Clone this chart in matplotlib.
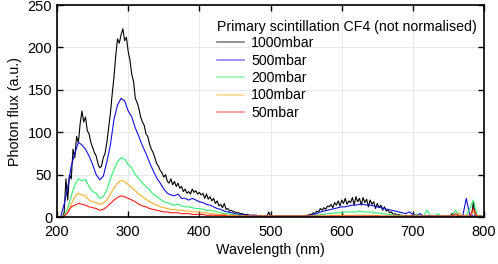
import numpy as np
import matplotlib
matplotlib.use("Agg")
import matplotlib.pyplot as plt

plt.rcParams['font.family'] = ['Liberation Sans', 'DejaVu Sans']

# wavelength grids (nm): fine one for the noisy 1000 mbar trace, coarse for the rest
wl_fine = np.arange(200, 800.1, 2.5)
wavelength = np.arange(200, 801, 5)

labels = ["1000mbar", "500mbar", "200mbar", "100mbar", "50mbar"]
colors = ["#000000", "#1010e0", "#30ee70", "#ffb02a", "#ff1c1c"]

flux_1000 = [
    0, 0, 0, 0, 5, 45, 20, 50, 45, 80,                  # 200-222.5
    70, 95, 88, 110, 125, 112, 118, 102, 98, 88,        # 225-247.5
    82, 76, 72, 63, 58, 60, 70, 75, 88, 105,            # 250-272.5
    122, 145, 165, 190, 210, 205, 215, 222, 208, 212,   # 275-297.5
    195, 185, 168, 160, 140, 135, 128, 118, 112, 108,   # 300-322.5
    98, 95, 86, 80, 76, 70, 63, 60, 55, 52,             # 325-347.5
    47, 50, 42, 40, 45, 38, 42, 36, 40, 34,             # 350-372.5
    36, 30, 33, 28, 30, 27, 33, 29, 31, 27,             # 375-397.5
    29, 26, 28, 22, 27, 21, 24, 19, 22, 16,             # 400-422.5
    19, 13, 15, 11, 16, 9, 10, 7, 8, 6,                 # 425-447.5
    6, 5, 5, 4, 4, 3, 3, 3, 2, 2,                       # 450-472.5
    2, 2, 2, 1, 2, 1, 1, 1, 1, 6,                       # 475-497.5
    1, 1, 1, 1, 1, 1, 1, 1, 1, 1,                       # 500-522.5
    1, 1, 1, 1, 1, 1, 1, 1, 1, 1,                       # 525-547.5
    2, 2, 3, 3, 5, 4, 7, 6, 10, 8,                      # 550-572.5
    11, 9, 13, 12, 15, 11, 17, 14, 19, 13,              # 575-597.5
    20, 16, 22, 15, 19, 17, 23, 14, 24, 18,             # 600-622.5
    22, 14, 23, 17, 21, 12, 20, 15, 18, 10,             # 625-647.5
    16, 11, 14, 8, 12, 7, 8, 5, 6, 3,                   # 650-672.5
    4, 2, 3, 2, 2, 1, 2, 1, 1, 2,                       # 675-697.5
    1, 1, 1, 1, 1, 1, 1, 1, 1, 1,                       # 700-722.5
    1, 1, 1, 1, 1, 1, 1, 1, 1, 1,                       # 725-747.5
    1, 1, 4, 1, 1, 1, 1, 1, 1, 1,                       # 750-772.5
    1, 1, 1, 1, 18, 1, 1, 1, 1, 1,                      # 775-797.5
    0]
flux_500 = [
    0, 0, 15, 35, 60, 75, 88, 85, 80, 72,
    62, 50, 44, 48, 65, 85, 115, 132, 140, 137,
    125, 118, 105, 95, 84, 75, 64, 55, 46, 40,
    33, 28, 26, 25, 27, 22, 22, 20, 22, 20,
    18, 17, 15, 14, 12, 10, 9, 7, 6, 5,
    4, 3, 3, 2, 2, 2, 2, 1, 1, 1,
    1, 1, 1, 1, 1, 1, 1, 1, 1, 1,
    1, 2, 3, 4, 6, 7, 8, 9, 10, 11,
    12, 12, 13, 14, 14, 15, 15, 14, 14, 13,
    12, 11, 10, 9, 8, 7, 6, 5, 4, 6,
    3, 2, 4, 1, 1, 2, 1, 1, 1, 1,
    1, 1, 1, 1, 1, 22, 2, 1, 1, 1,
    0]
flux_200 = [
    0, 0, 2, 10, 25, 38, 45, 43, 44, 36,
    30, 28, 22, 24, 32, 45, 56, 65, 70, 68,
    62, 58, 50, 45, 40, 36, 32, 27, 24, 21,
    18, 17, 15, 14, 15, 13, 12, 12, 11, 10,
    10, 9, 8, 8, 7, 6, 5, 4, 4, 3,
    3, 2, 2, 1, 1, 1, 1, 1, 1, 1,
    1, 1, 1, 1, 1, 1, 1, 1, 1, 1,
    1, 1, 2, 2, 3, 3, 4, 4, 5, 5,
    5, 6, 6, 6, 6, 7, 6, 6, 6, 5,
    5, 4, 4, 3, 3, 2, 2, 2, 1, 1,
    1, 3, 1, 1, 8, 1, 1, 4, 1, 1,
    1, 1, 8, 1, 1, 1, 10, 20, 2, 1,
    0]
flux_100 = [
    0, 0, 1, 6, 15, 24, 28, 26, 25, 20,
    18, 17, 15, 16, 20, 27, 34, 40, 43, 42,
    38, 35, 31, 27, 24, 21, 18, 16, 14, 12,
    11, 10, 9, 9, 8, 8, 7, 7, 6, 6,
    6, 5, 5, 4, 4, 3, 3, 3, 2, 2,
    2, 1, 1, 1, 1, 1, 1, 1, 1, 1,
    1, 1, 1, 1, 1, 1, 1, 1, 1, 1,
    1, 1, 1, 1, 1, 1, 1, 2, 2, 2,
    2, 2, 2, 2, 2, 2, 2, 2, 2, 2,
    2, 1, 1, 1, 1, 1, 1, 1, 1, 1,
    1, 1, 1, 1, 1, 1, 1, 1, 1, 1,
    1, 1, 1, 5, 1, 1, 1, 6, 1, 1,
    0]
flux_50 = [
    0, 0, 1, 5, 12, 14, 16, 15, 14, 12,
    11, 10, 8, 9, 12, 16, 20, 23, 25, 24,
    22, 20, 18, 15, 13, 12, 10, 9, 8, 7,
    6, 6, 5, 5, 5, 4, 4, 4, 3, 3,
    3, 3, 2, 2, 2, 2, 2, 2, 1, 1,
    1, 1, 1, 1, 1, 1, 1, 1, 1, 1,
    1, 1, 1, 1, 1, 1, 1, 1, 1, 1,
    1, 1, 1, 1, 1, 1, 1, 1, 1, 1,
    1, 1, 1, 1, 1, 1, 1, 1, 1, 1,
    1, 1, 1, 1, 1, 1, 1, 1, 1, 1,
    1, 1, 1, 1, 1, 1, 1, 1, 1, 1,
    1, 1, 4, 1, 1, 1, 1, 10, 1, 1,
    0]

series = [(wl_fine, flux_1000), (wavelength, flux_500), (wavelength, flux_200),
          (wavelength, flux_100), (wavelength, flux_50)]

fig = plt.figure(figsize=(4.98, 2.64), dpi=100)
ax = fig.add_axes([0.1145, 0.178, 0.8575, 0.803])

for (x, y), lab, col in zip(series, labels, colors):
    ax.plot(x, y, color=col, linewidth=0.8, label=lab)

ax.set_xlim(200, 800)
ax.set_ylim(0, 250)
ax.set_xticks(np.arange(200, 801, 100))
ax.set_yticks(np.arange(0, 251, 50))
ax.grid(True, color="#e4e4e4", linewidth=0.6)
ax.set_axisbelow(True)
ax.tick_params(direction="in", top=True, right=True, length=4, width=1, labelsize=10.5)
ax.tick_params(axis="x", pad=5.5)
for s in ax.spines.values():
    s.set_linewidth(1.2)

ax.set_xlabel("Wavelength (nm)", fontsize=10.3, labelpad=3)
ax.set_ylabel("Photon flux (a.u.)", fontsize=10.3)

leg = ax.legend(title="Primary scintillation CF4 (not normalised)", loc="upper left",
                bbox_to_anchor=(0.358, 0.965), frameon=False, borderpad=0,
                fontsize=10.2, title_fontsize=10.2, handlelength=1.9,
                labelspacing=0.24, handletextpad=0.5)
leg._legend_box.align = "left"
leg._legend_box.sep = 2
for h in leg.get_lines():
    h.set_alpha(0.5)
    h.set_linewidth(1.2)

fig.savefig("out.png", dpi=100)
